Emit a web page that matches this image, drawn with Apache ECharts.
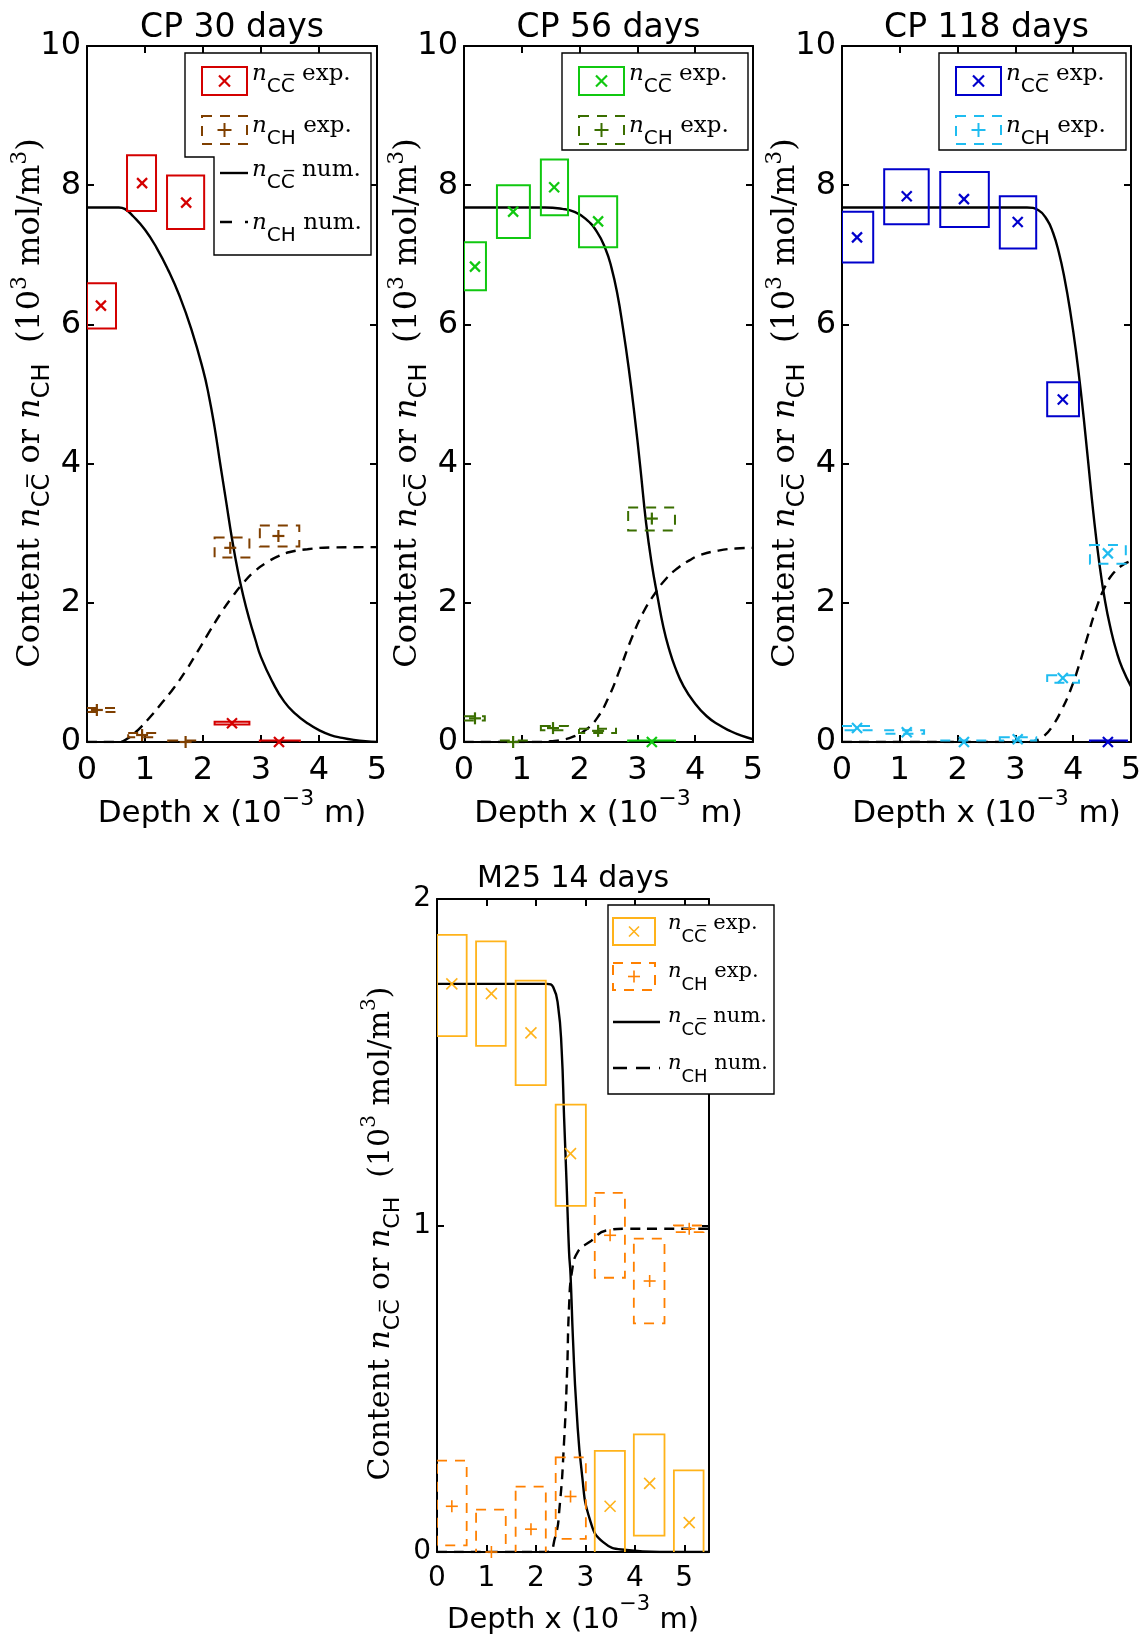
<!DOCTYPE html>
<html><head><meta charset="utf-8">
<script src="https://cdn.jsdelivr.net/npm/echarts/dist/echarts.min.js"></script>
<style>html,body{margin:0;padding:0;background:#fff}#c{width:1144px;height:1634px}</style>
</head><body><div id="c"></div>
<script>
// ---------- DATA ----------
// experimental boxes: [xCenter, yCenter, xLow, xHigh, yLow, yHigh]
const cp30_ccExp = [[0.24,6.27,0.0,0.5,5.94,6.59],[0.95,8.03,0.69,1.19,7.63,8.43],[1.71,7.75,1.38,2.02,7.37,8.14],[2.5,0.27,2.2,2.8,0.25,0.29],[3.31,0.0,2.98,3.67,-0.02,0.02]];
const cp30_chExp = [[0.17,0.46,0.0,0.52,0.43,0.49],[0.95,0.10,0.71,1.2,0.07,0.13],[1.7,0.0,1.4,2.0,-0.02,0.02],[2.47,2.79,2.2,2.8,2.65,2.94],[3.3,2.96,2.98,3.66,2.81,3.11]];
const cp30_ccNum = [[0,7.68],[0.55,7.68],[0.65,7.66],[0.8,7.55],[1.0,7.36],[1.2,7.1],[1.4,6.78],[1.6,6.4],[1.8,5.93],[2.0,5.35],[2.1,4.98],[2.2,4.52],[2.3,3.98],[2.4,3.45],[2.5,2.92],[2.6,2.46],[2.7,2.08],[2.8,1.76],[2.9,1.48],[3.0,1.22],[3.2,0.86],[3.4,0.58],[3.6,0.4],[3.8,0.27],[4.0,0.17],[4.2,0.1],[4.4,0.06],[4.6,0.03],[4.8,0.01],[5.0,0.0]];
const cp30_chNum = [[0,0],[0.55,0],[0.7,0.05],[0.9,0.19],[1.1,0.37],[1.3,0.57],[1.5,0.78],[1.7,1.02],[1.9,1.29],[2.1,1.57],[2.3,1.84],[2.5,2.08],[2.7,2.29],[2.9,2.46],[3.1,2.58],[3.3,2.67],[3.5,2.73],[3.8,2.77],[4.2,2.795],[5.0,2.8]];

const cp56_ccExp = [[0.19,6.83,0.0,0.38,6.49,7.18],[0.85,7.62,0.57,1.14,7.24,8.0],[1.56,7.97,1.33,1.8,7.57,8.37],[2.32,7.48,1.99,2.65,7.11,7.84],[3.25,0.0,2.84,3.65,-0.02,0.02]];
const cp56_chExp = [[0.19,0.34,0.0,0.36,0.31,0.37],[0.85,0.0,0.62,1.14,-0.02,0.02],[1.54,0.2,1.33,1.8,0.17,0.23],[2.32,0.16,1.99,2.63,0.13,0.19],[3.25,3.21,2.84,3.65,3.04,3.37]];
const cp56_ccNum = [[0,7.68],[1.4,7.68],[1.7,7.66],[1.9,7.62],[2.1,7.52],[2.3,7.33],[2.45,7.08],[2.55,6.82],[2.65,6.45],[2.75,5.95],[2.85,5.37],[2.95,4.7],[3.05,3.95],[3.15,3.15],[3.25,2.55],[3.35,2.08],[3.45,1.65],[3.55,1.33],[3.65,1.08],[3.8,0.8],[4.0,0.55],[4.2,0.37],[4.4,0.25],[4.6,0.16],[4.8,0.09],[5.0,0.04]];
const cp56_chNum = [[0,0],[1.3,0],[1.5,0.01],[1.7,0.03],[1.9,0.08],[2.1,0.17],[2.3,0.34],[2.5,0.64],[2.7,1.05],[2.9,1.49],[3.1,1.86],[3.3,2.13],[3.5,2.35],[3.7,2.5],[3.9,2.61],[4.1,2.69],[4.4,2.75],[4.7,2.78],[5.0,2.79]];

const cp118_ccExp = [[0.26,7.25,0.0,0.54,6.89,7.62],[1.12,7.84,0.73,1.5,7.44,8.23],[2.11,7.8,1.7,2.54,7.4,8.19],[3.04,7.47,2.73,3.36,7.09,7.84],[3.82,4.92,3.55,4.1,4.68,5.17],[4.6,0.0,4.29,4.93,-0.02,0.02]];
const cp118_chExp = [[0.26,0.2,0.0,0.54,0.17,0.23],[1.12,0.14,0.73,1.42,0.12,0.17],[2.11,0.0,1.7,2.54,-0.02,0.02],[3.04,0.04,2.73,3.36,0.02,0.07],[3.82,0.92,3.55,4.1,0.85,0.96],[4.6,2.71,4.29,4.91,2.56,2.83]];
const cp118_ccNum = [[0,7.68],[3.2,7.68],[3.4,7.64],[3.55,7.5],[3.65,7.32],[3.75,7.04],[3.85,6.66],[3.95,6.18],[4.05,5.6],[4.15,4.9],[4.25,4.1],[4.35,3.28],[4.45,2.58],[4.55,2.03],[4.65,1.62],[4.75,1.3],[4.85,1.06],[5.0,0.8]];
const cp118_chNum = [[0,0],[3.2,0],[3.35,0.02],[3.5,0.09],[3.65,0.24],[3.8,0.46],[3.95,0.74],[4.1,1.1],[4.25,1.52],[4.4,1.92],[4.55,2.23],[4.7,2.43],[4.85,2.54],[5.0,2.6]];

const m25_ccExp = [[0.3,1.74,0.0,0.6,1.58,1.89],[1.1,1.71,0.79,1.39,1.55,1.87],[1.9,1.59,1.59,2.2,1.43,1.75],[2.7,1.22,2.4,3.01,1.06,1.37],[3.5,0.14,3.19,3.8,-0.03,0.31],[4.3,0.21,3.98,4.6,0.05,0.36],[5.1,0.09,4.79,5.39,-0.07,0.25]];
const m25_chExp = [[0.3,0.14,0.0,0.6,0.02,0.28],[1.1,0.0,0.79,1.39,-0.13,0.13],[1.9,0.07,1.59,2.2,-0.06,0.2],[2.7,0.17,2.4,3.01,0.04,0.29],[3.5,0.97,3.19,3.8,0.84,1.1],[4.3,0.83,3.98,4.6,0.7,0.96],[5.1,0.99,4.79,5.39,0.98,1.0]];
const m25_ccNum = [[0,1.74],[1.5,1.74],[2.22,1.74],[2.35,1.73],[2.45,1.67],[2.52,1.54],[2.57,1.33],[2.62,1.13],[2.67,0.92],[2.7,0.85],[2.75,0.65],[2.82,0.44],[2.93,0.24],[3.09,0.1],[3.36,0.03],[3.83,0.006],[4.5,0],[5.5,0]];
const m25_chNum = [[0,0],[2.22,0],[2.38,0.04],[2.48,0.14],[2.57,0.34],[2.63,0.55],[2.67,0.75],[2.73,0.86],[2.85,0.92],[3.09,0.95],[3.43,0.985],[3.83,0.99],[4.5,0.99],[5.5,0.99]];

const panelTitles = ['CP 30 days', 'CP 56 days', 'CP 118 days', 'M25 14 days'];
const xAxisTitle = ['Depth x (10', '\u22123', ' m)'];
const legendSubs = ['CC\u0305', 'CH'];
const legendWords = ['exp.', 'num.'];

// ---------- LAYOUT / STYLE ----------
const SANS = 'DejaVu Sans', SERIF = 'DejaVu Serif';
const panels = [
  {grid:{left:87,top:46,width:290,height:696}, xMax:5, yMax:10, yInt:2, tick:32, tSize:33, tTop:12, nSize:31, ySize:32, yShift:18, xm:13, cc:'#D40000', ch:'#7F3F00', chMark:'+', boxLw:2, mk:10, pk:12, mlw:2.2,
   data:[cp30_ccExp, cp30_chExp, cp30_ccNum, cp30_chNum]},
  {grid:{left:464,top:46,width:289,height:696}, xMax:5, yMax:10, yInt:2, tick:32, tSize:33, tTop:12, nSize:31, ySize:32, yShift:18, xm:13, cc:'#10C810', ch:'#3A6E00', chMark:'+', boxLw:2, mk:10, pk:12, mlw:2.2,
   data:[cp56_ccExp, cp56_chExp, cp56_ccNum, cp56_chNum]},
  {grid:{left:842,top:46,width:289,height:696}, xMax:5, yMax:10, yInt:2, tick:32, tSize:33, tTop:12, nSize:31, ySize:32, yShift:18, xm:13, cc:'#0000CC', ch:'#1FBCF0', chMark:'x', boxLw:2, mk:10, pk:12, mlw:2.2,
   data:[cp118_ccExp, cp118_chExp, cp118_ccNum, cp118_chNum]},
  {grid:{left:437,top:899,width:272,height:653}, xMax:5.5, yMax:2, yInt:1, tick:28, tSize:30, tTop:864, nSize:29, ySize:30, yShift:16, xm:13, cc:'#FFB31A', ch:'#FF8000', chMark:'+', boxLw:1.8, mk:11, pk:12, mlw:1.6,
   data:[m25_ccExp, m25_chExp, m25_ccNum, m25_chNum]}
];

// token vertical placement: verticalAlign 'top' + height => text centred at lineTop + height/2
function yNameRich(S, shift) {
  const cb = 16;
  return {
    b:{fontFamily:SERIF, fontSize:S, height:2*cb, verticalAlign:'top', color:'#000'},
    e:{fontFamily:SERIF, fontSize:S, height:2*cb, verticalAlign:'top', color:'#000', padding:[0, shift, 0, 0]},
    i:{fontFamily:SERIF, fontStyle:'italic', fontSize:S, height:2*cb, verticalAlign:'top', color:'#000'},
    s:{fontFamily:SANS, fontSize:Math.round(S*0.74), height:2*(cb+12), verticalAlign:'top', color:'#000'},
    p:{fontFamily:SERIF, fontSize:Math.round(S*0.68), height:2*(cb-11), verticalAlign:'top', color:'#000'}
  };
}
const yNameText = '{b|Content }{i|n}{s|' + legendSubs[0] + '}{b| or }{i|n}{s|' + legendSubs[1] + '}{b|  (10}{p|3}{b| mol/m}{p|3}{e|)}';
function xNameRich(S) {
  return {
    a:{fontFamily:SANS, fontSize:S, height:44, verticalAlign:'top', color:'#000'},
    s:{fontFamily:SANS, fontSize:Math.round(S*0.71), height:14, verticalAlign:'top', color:'#000'}
  };
}
const xNameText = '{a|' + xAxisTitle[0] + '}{s|' + xAxisTitle[1] + '}{a|' + xAxisTitle[2] + '}';

function boxItem(color, dashed, lw) {
  return function (params, api) {
    const a = api.coord([api.value(2), api.value(5)]);
    const b = api.coord([api.value(3), api.value(4)]);
    return {type:'rect', shape:{x:a[0], y:a[1], width:b[0]-a[0], height:b[1]-a[1]},
      style:{fill:'none', stroke:color, lineWidth:lw, lineDash: dashed ? [10,8] : null}};
  };
}
function crossEls(cx, cy, kind, size, color, lw, z) {
  const h = size/2;
  const mk = (x1,y1,x2,y2) => { const e = {type:'line', shape:{x1,y1,x2,y2}, style:{stroke:color, lineWidth:lw}}; if (z!=null) e.z = z; return e; };
  return kind === 'x'
    ? [mk(cx-h,cy-h,cx+h,cy+h), mk(cx-h,cy+h,cx+h,cy-h)]
    : [mk(cx-h,cy,cx+h,cy), mk(cx,cy-h,cx,cy+h)];
}
function markerItem(kind, color, size, lw) {
  return function (params, api) {
    const c = api.coord([api.value(0), api.value(1)]);
    return {type:'group', children: crossEls(c[0], c[1], kind, size, color, lw)};
  };
}

const option = {animation:false, backgroundColor:'#fff', title:[], grid:[], xAxis:[], yAxis:[], series:[], graphic:{elements:[]}};

panels.forEach((p, i) => {
  option.grid.push(Object.assign({containLabel:false, outerBoundsMode:'none'}, p.grid));
  option.title.push({text:panelTitles[i], left:p.grid.left + p.grid.width/2, top:p.tTop, textAlign:'center', padding:0,
    textStyle:{fontFamily:SANS, fontSize:p.tSize, fontWeight:'normal', color:'#000'}});
  const line = {show:true, onZero:false, lineStyle:{color:'#000', width:2}};
  const tick = {show:true, inside:true, length:7, lineStyle:{color:'#000', width:2}};
  option.xAxis.push({type:'value', gridIndex:i, position:'bottom', min:0, max:p.xMax, interval:1, splitLine:{show:false}, axisLine:line, axisTick:tick,
    axisLabel:{show:true, margin:p.xm, color:'#000', fontFamily:SANS, fontSize:p.tick, showMaxLabel: p.xMax === 5},
    name:xNameText, nameLocation:'middle', nameGap:46, nameTextStyle:{rich:xNameRich(p.nSize)}});
  option.xAxis.push({type:'value', gridIndex:i, position:'top', min:0, max:p.xMax, interval:1, splitLine:{show:false}, axisLine:line, axisTick:tick, axisLabel:{show:false}});
  option.yAxis.push({type:'value', gridIndex:i, position:'left', min:0, max:p.yMax, interval:p.yInt, splitLine:{show:false}, axisLine:line, axisTick:tick,
    axisLabel:{show:true, margin:6, color:'#000', fontFamily:SANS, fontSize:p.tick},
    name:yNameText, nameLocation:'middle', nameRotate:90, nameGap:16, nameMoveOverlap:false, nameTextStyle:{rich:yNameRich(p.ySize, p.yShift)}});
  option.yAxis.push({type:'value', gridIndex:i, position:'right', min:0, max:p.yMax, interval:p.yInt, splitLine:{show:false}, axisLine:line, axisTick:tick, axisLabel:{show:false}});
  const xi = 2*i, yi = 2*i;
  const [ccExp, chExp, ccNum, chNum] = p.data;
  option.series.push(
    {type:'line', xAxisIndex:xi, yAxisIndex:yi, data:ccNum, showSymbol:false, symbol:'none', smooth:0.5, clip:true, z:3,
     lineStyle:{color:'#000', width:2.4, type:'solid'}},
    {type:'line', xAxisIndex:xi, yAxisIndex:yi, data:chNum, showSymbol:false, symbol:'none', smooth:0.5, clip:true, z:3,
     lineStyle:{color:'#000', width:2.4, type:[10,7]}},
    {type:'custom', xAxisIndex:xi, yAxisIndex:yi, data:ccExp, clip:true, z:4, encode:{x:[0,2,3], y:[1,4,5]}, renderItem:boxItem(p.cc, false, p.boxLw)},
    {type:'custom', xAxisIndex:xi, yAxisIndex:yi, data:chExp, clip:true, z:4, encode:{x:[0,2,3], y:[1,4,5]}, renderItem:boxItem(p.ch, true, p.boxLw)},
    {type:'custom', xAxisIndex:xi, yAxisIndex:yi, data:ccExp, clip:false, z:5, encode:{x:0, y:1}, renderItem:markerItem('x', p.cc, p.mk, p.mlw)},
    {type:'custom', xAxisIndex:xi, yAxisIndex:yi, data:chExp, clip:false, z:5, encode:{x:0, y:1}, renderItem:markerItem(p.chMark, p.ch, p.chMark === '+' ? p.pk : p.mk, p.mlw)}
  );
});

// ---------- LEGENDS (drawn as graphics) ----------
const G = option.graphic.elements;
const LZ = 100;
function legendText(x, yCenter, sub, word, F) {
  const cb = 12;
  G.push({type:'text', x:x, y:yCenter - cb, z:LZ+2, style:{
    text:'{n|n}{s|' + sub + '}{r| ' + word + '}', align:'left', verticalAlign:'top',
    rich:{
      n:{fontFamily:SERIF, fontStyle:'italic', fontSize:F, height:2*cb, verticalAlign:'top', fill:'#000'},
      s:{fontFamily:SANS, fontSize:Math.round(F*0.86), height:2*(cb+13), verticalAlign:'top', fill:'#000'},
      r:{fontFamily:SERIF, fontSize:F, height:2*cb, verticalAlign:'top', fill:'#000'}
    }}});
}
function legendBoxIcon(x, y, w, h, color, dashed, mark, msize, lw) {
  G.push({type:'rect', z:LZ+1, shape:{x, y, width:w, height:h}, style:{fill:'none', stroke:color, lineWidth:2, lineDash: dashed ? [10,8] : null}});
  crossEls(x + w/2, y + h/2, mark, msize, color, lw, LZ+1).forEach(e => G.push(e));
}
function legendLineIcon(x1, x2, y, dash) {
  G.push({type:'line', z:LZ+1, shape:{x1, y1:y, x2, y2:y}, style:{stroke:'#000', lineWidth:2.4, lineDash: dash}});
}
// panel 1 (union of two legend boxes)
G.push({type:'polygon', z:LZ, shape:{points:[[185,53],[371,53],[371,255],[214,255],[214,157],[185,157]]}, style:{fill:'#fff', stroke:'#000', lineWidth:1.4}});
legendBoxIcon(202,67,45,28, panels[0].cc, false, 'x', 11, 2.2); legendText(252, 74, legendSubs[0], legendWords[0], 23);
legendBoxIcon(202,116,45,28, panels[0].ch, true, '+', 14, 2); legendText(252, 126, legendSubs[1], legendWords[0], 23);
legendLineIcon(220,248,173,null); legendText(252, 170, legendSubs[0], legendWords[1], 23);
legendLineIcon(220,248,222,[12,13]); legendText(252, 223, legendSubs[1], legendWords[1], 23);
// panel 2
G.push({type:'rect', z:LZ, shape:{x:562,y:53,width:186,height:97}, style:{fill:'#fff', stroke:'#000', lineWidth:1.4}});
legendBoxIcon(579,67,45,28, panels[1].cc, false, 'x', 11, 2.2); legendText(629, 74, legendSubs[0], legendWords[0], 23);
legendBoxIcon(579,116,45,28, panels[1].ch, true, '+', 14, 2); legendText(629, 126, legendSubs[1], legendWords[0], 23);
// panel 3
G.push({type:'rect', z:LZ, shape:{x:939,y:53,width:187,height:97}, style:{fill:'#fff', stroke:'#000', lineWidth:1.4}});
legendBoxIcon(956,67,45,28, panels[2].cc, false, 'x', 11, 2.2); legendText(1006, 74, legendSubs[0], legendWords[0], 23);
legendBoxIcon(956,116,45,28, panels[2].ch, true, '+', 14, 2); legendText(1006, 126, legendSubs[1], legendWords[0], 23);
// panel 4
G.push({type:'rect', z:LZ, shape:{x:608,y:905,width:166,height:189}, style:{fill:'#fff', stroke:'#000', lineWidth:1.4}});
legendBoxIcon(613,918,42,27, panels[3].cc, false, 'x', 10, 1.6); legendText(668, 924, legendSubs[0], legendWords[0], 21);
legendBoxIcon(613,963,42,27, panels[3].ch, true, '+', 12, 1.6); legendText(668, 972, legendSubs[1], legendWords[0], 21);
legendLineIcon(613,660,1022,null); legendText(668, 1017, legendSubs[0], legendWords[1], 21);
legendLineIcon(613,660,1068,[14,9]); legendText(668, 1064, legendSubs[1], legendWords[1], 21);

const chart = echarts.init(document.getElementById('c'), null, {renderer:'canvas', width:1144, height:1634});
chart.setOption(option);
</script></body></html>
